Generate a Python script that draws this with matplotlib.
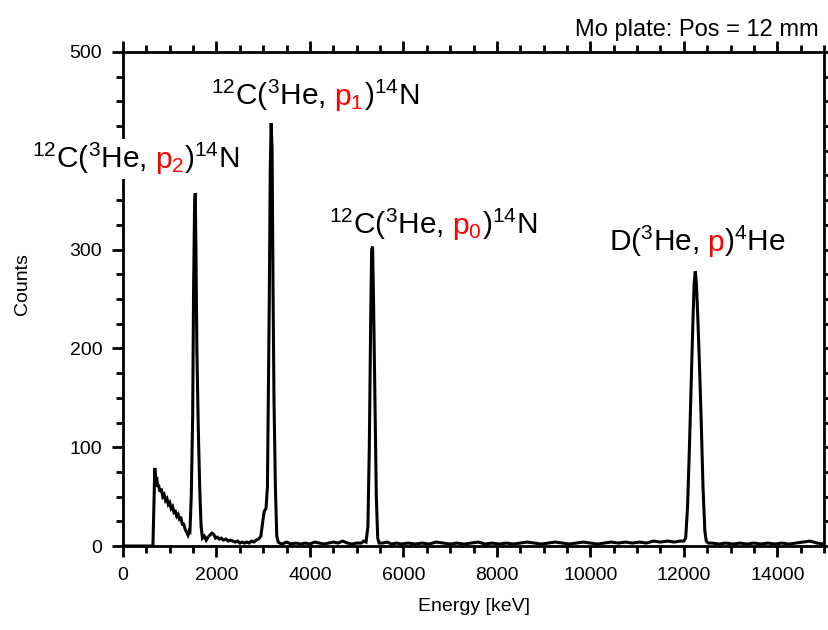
import matplotlib
matplotlib.use("Agg")
import matplotlib.pyplot as plt
from matplotlib.ticker import MultipleLocator, FuncFormatter
from matplotlib.offsetbox import TextArea, HPacker, DrawingArea, AnnotationBbox

plt.rcParams.update({
    'font.family': ['Liberation Sans', 'DejaVu Sans'],
    'mathtext.fontset': 'custom',
    'mathtext.rm': 'Liberation Sans',
    'mathtext.it': 'Liberation Sans:italic',
    'mathtext.bf': 'Liberation Sans:bold',
})

low_e = [0, 640, 660, 680, 700, 720, 740, 760, 790, 820, 850, 880, 910, 940,
         970, 1000, 1030, 1060, 1090, 1120, 1150, 1180, 1210, 1240, 1270,
         1300, 1330, 1360, 1390, 1410]
low_c = [0, 0, 40, 79, 65, 70, 60, 62, 55, 58, 50, 52, 46, 48,
         42, 44, 38, 40, 34, 35, 30, 32, 27, 28, 22,
         22, 17, 14, 11, 14]

p2_e = [1430, 1460, 1490, 1510, 1530, 1545, 1560, 1580, 1610, 1640, 1670, 1700]
p2_c = [12, 50, 130, 260, 340, 357, 300, 200, 120, 60, 20, 8]

tail_e = [1740, 1780, 1820, 1860, 1900, 1940, 1980, 2020, 2060, 2100, 2150,
          2200, 2250, 2300, 2350, 2400, 2450, 2500, 2550, 2600, 2650, 2700,
          2750, 2800, 2850, 2900]
tail_c = [10, 6, 9, 11, 13, 12, 8, 9, 7, 8, 6,
          7, 5, 6, 5, 4, 5, 3, 4, 3, 4, 3,
          5, 4, 6, 7]

p1_e = [2950, 2990, 3020, 3060, 3090, 3110, 3130, 3150, 3170, 3190, 3210,
        3230, 3260, 3290, 3320]
p1_c = [10, 25, 35, 38, 60, 150, 250, 380, 428, 400, 260,
        150, 60, 10, 4]

mid_e = [3350, 3400, 3500, 3600, 3700, 3800, 3900, 4000, 4100, 4200, 4300,
         4400, 4500, 4600, 4700, 4800, 4900, 5000, 5100, 5150]
mid_c = [3, 2, 4, 2, 3, 2, 3, 2, 4, 3, 2,
         3, 4, 3, 5, 3, 2, 3, 3, 5]

p0_e = [5200, 5240, 5270, 5300, 5320, 5340, 5360, 5390, 5420, 5450, 5480]
p0_c = [4, 20, 100, 230, 300, 303, 250, 150, 50, 8, 3]

flat_e = [5550, 5650, 5750, 5850, 5950, 6100, 6250, 6400, 6550, 6700, 6850,
          7000, 7150, 7300, 7450, 7600, 7750, 7900, 8050, 8200, 8350, 8500,
          8650, 8800, 8950, 9100, 9250, 9400, 9550, 9700, 9850, 10000, 10150,
          10300, 10450, 10600, 10750, 10900, 11050, 11200, 11350, 11500,
          11650, 11800, 11900]
flat_c = [3, 4, 2, 3, 2, 3, 2, 3, 2, 4, 3,
          2, 3, 2, 3, 4, 2, 3, 2, 3, 2, 3,
          4, 3, 2, 3, 4, 3, 2, 3, 4, 3, 2,
          3, 4, 3, 4, 3, 4, 3, 5, 4,
          5, 4, 5]

pd_e = [12000, 12040, 12080, 12120, 12160, 12190, 12220, 12245, 12270, 12300,
        12330, 12370, 12410, 12450, 12480, 12520]
pd_c = [5, 8, 40, 100, 170, 220, 265, 278, 265, 230,
        190, 130, 60, 15, 5, 3]

high_e = [12600, 12750, 12900, 13050, 13200, 13350, 13500, 13650, 13800,
          13950, 14100, 14250, 14400, 14550, 14700, 14850, 15000]
high_c = [3, 2, 3, 2, 3, 2, 3, 2, 3, 2, 3, 2, 3, 4, 5, 3, 2]

energy = low_e + p2_e + tail_e + p1_e + mid_e + p0_e + flat_e + pd_e + high_e
counts = low_c + p2_c + tail_c + p1_c + mid_c + p0_c + flat_c + pd_c + high_c

# the p2 label sits over the y axis and hides this tick value
hidden_ytick = 400

# peak labels: (pre, red part, post, x keV, y counts, white box)
labels = [
    (r"$^{12}$C($^{3}$He,", r"p$_{2}$", r")$^{14}$N", -1950, 374, True),
    (r"$^{12}$C($^{3}$He,", r"p$_{1}$", r")$^{14}$N", 1890, 438, False),
    (r"$^{12}$C($^{3}$He,", r"p$_{0}$", r")$^{14}$N", 4410, 308, False),
    (r"D($^{3}$He,", r"p", r")$^{4}$He", 10400, 290, False),
]

fig = plt.figure(figsize=(8.29, 6.30), dpi=100)
ax = fig.add_axes([0.1484, 0.1333, 0.8456, 0.7842])

ax.plot(energy, counts, color='black', lw=2.2, solid_joinstyle='miter')

ax.set_xlim(0, 15000)
ax.set_ylim(0, 500)
ax.xaxis.set_major_locator(MultipleLocator(2000))
ax.xaxis.set_minor_locator(MultipleLocator(500))
ax.yaxis.set_major_locator(MultipleLocator(100))
ax.yaxis.set_minor_locator(MultipleLocator(25))
ax.yaxis.set_major_formatter(
    FuncFormatter(lambda v, pos: "" if round(v) == hidden_ytick else f"{v:.0f}"))
ax.tick_params(which='both', direction='out', top=True, right=True,
               width=2.0, labelsize=14, pad=7)
ax.tick_params(which='major', length=8)
ax.tick_params(which='minor', length=5)
for s in ax.spines.values():
    s.set_linewidth(2.0)

ax.set_xlabel("Energy [keV]", fontsize=14, va='center')
ax.set_ylabel("Counts", fontsize=14, va='center')
ax.xaxis.set_label_coords(0.5, -0.123)
ax.yaxis.set_label_coords(-0.144, 0.53)

ax.text(0.992, 1.022, "Mo plate: Pos = 12 mm", transform=ax.transAxes,
        ha='right', va='bottom', fontsize=17)

lab_size = 21.5
for pre, red, post, xk, yc, boxed in labels:
    parts = [TextArea(pre, textprops=dict(color='black', fontsize=lab_size)),
             DrawingArea(0.278 * lab_size, 0),  # word space after the comma
             TextArea(red, textprops=dict(color='red', fontsize=lab_size)),
             TextArea(post, textprops=dict(color='black', fontsize=lab_size))]
    box = HPacker(children=parts, align='baseline', pad=0, sep=0)
    ab = AnnotationBbox(box, (xk, yc), xycoords='data', box_alignment=(0, 0),
                        frameon=boxed, pad=0.15, annotation_clip=False,
                        bboxprops=dict(facecolor='white', edgecolor='none'))
    ab.set_zorder(5)
    ax.add_artist(ab)

fig.savefig("out.png", dpi=100)
